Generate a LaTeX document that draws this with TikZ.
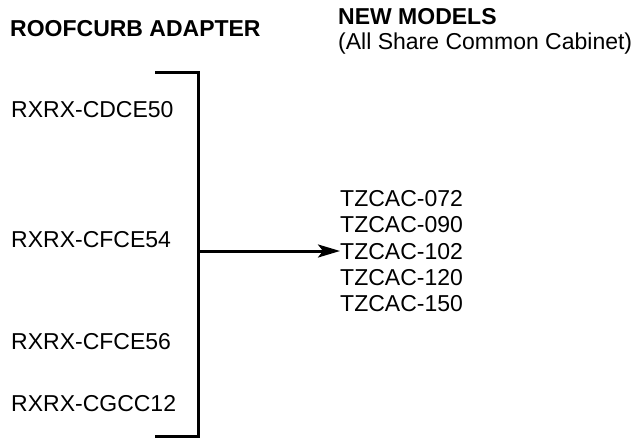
\documentclass[tikz,border=0pt]{standalone}
\usepackage{fontspec}
\setmainfont{Liberation Sans}
\usetikzlibrary{arrows.meta}

\begin{document}
\begin{tikzpicture}[x=1pt,y=-1pt,
  lbl/.style={anchor=base west,inner sep=0pt,font=\fontsize{23}{26}\selectfont},
  head/.style={lbl,font=\fontsize{23}{26}\selectfont\bfseries},
  bracket/.style={line width=3pt,line join=miter}]
\useasboundingbox (0,0) rectangle (644,438);

% headings
\node[head] (adapter) at (10,37) {ROOFCURB ADAPTER};
\node[head] (newmod) at (338,25) {NEW MODELS};
\node[lbl] (cabinet) at (338,50) {(All Share Common Cabinet)};

% roofcurb adapters
\node[lbl] (cdce50) at (11,118) {RXRX-CDCE50};
\node[lbl] (cfce54) at (11,247) {RXRX-CFCE54};
\node[lbl] (cfce56) at (11,349) {RXRX-CFCE56};
\node[lbl] (cgcc12) at (11,411) {RXRX-CGCC12};

% new models
\foreach \m [count=\i] in {072,090,102,120,150}
  \node[lbl] (m\m) at (340,181+26*\i) {TZCAC-\m};

% bracket
\coordinate (btop) at (155,73);
\coordinate (bbot) at (155,436);
\coordinate (bmid) at (198,251);
\draw[bracket] (btop) -- (198,73) -- (198,436) -- (bbot);
\draw[-{Stealth[length=22pt,width=13pt,inset=5pt]},line width=3pt] (bmid) -- (m102.west |- bmid);
\end{tikzpicture}
\end{document}
